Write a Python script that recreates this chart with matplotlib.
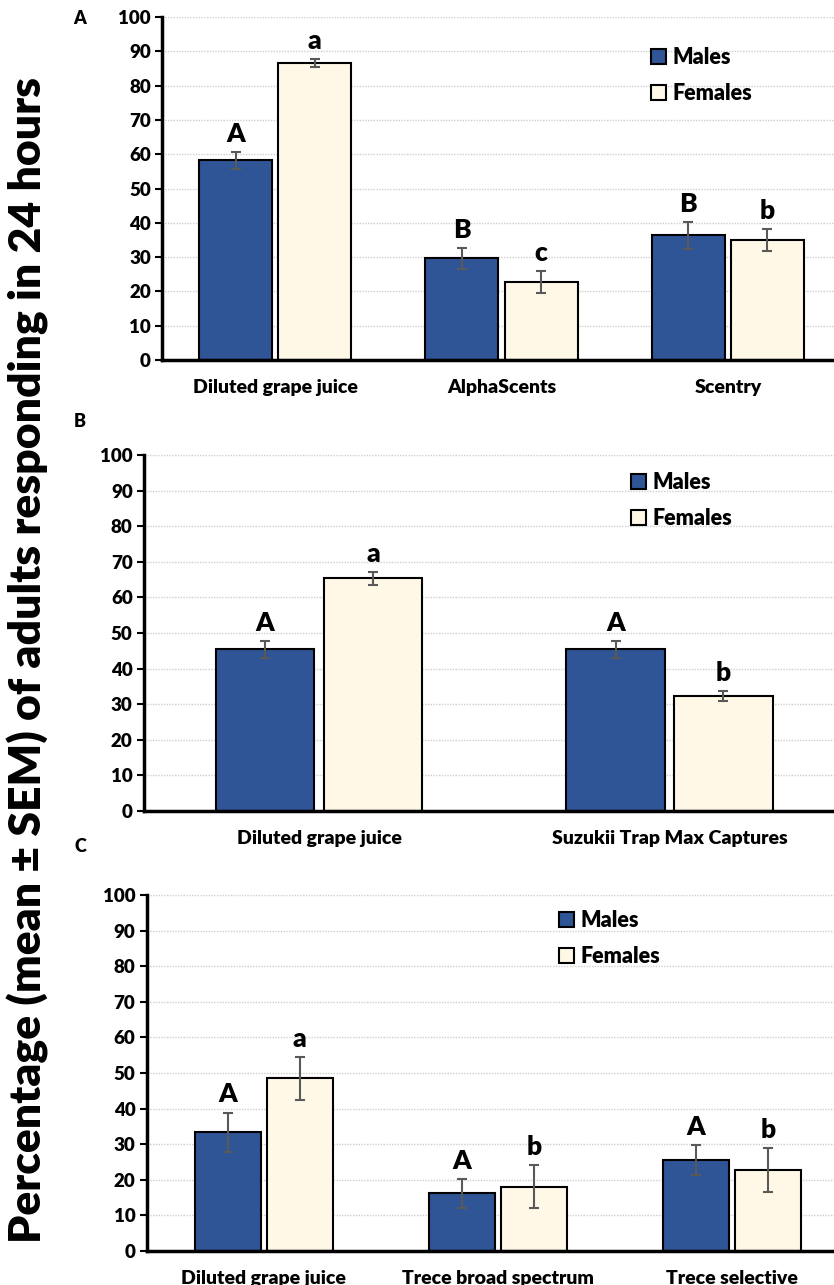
import matplotlib
matplotlib.use("Agg")
import matplotlib.pyplot as plt
from matplotlib.patches import Patch
import numpy as np

plt.rcParams['font.family'] = ['Lato', 'DejaVu Sans']
plt.rcParams['font.weight'] = 'bold'

# ---------------- data ----------------
cats_a = ["Diluted grape juice", "AlphaScents", "Scentry"]
males_a = [58.2, 29.6, 36.3]
males_a_sem = [2.5, 3.0, 3.9]
females_a = [86.5, 22.8, 35.0]
females_a_sem = [1.2, 3.2, 3.3]
letters_m_a = ["A", "B", "B"]
letters_f_a = ["a", "c", "b"]

cats_b = ["Diluted grape juice", "Suzukii Trap Max Captures"]
males_b = [45.4, 45.4]
males_b_sem = [2.3, 2.3]
females_b = [65.4, 32.3]
females_b_sem = [1.8, 1.5]
letters_m_b = ["A", "A"]
letters_f_b = ["a", "b"]

cats_c = ["Diluted grape juice", "Trece broad spectrum", "Trece selective"]
males_c = [33.3, 16.2, 25.6]
males_c_sem = [5.6, 4.0, 4.2]
females_c = [48.5, 18.1, 22.8]
females_c_sem = [6.0, 6.0, 6.2]
letters_m_c = ["A", "A", "A"]
letters_f_c = ["a", "b", "b"]

yticks = list(range(0, 101, 10))
panel_labels = ["A", "B", "C"]
series_names = ["Males", "Females"]

MALE = "#2F5597"
FEMALE = "#FFF8E7"
ERR = "#595959"

W, H = 834, 1285
fig = plt.figure(figsize=(W / 100, H / 100), dpi=100)


def px_axes(left, right, top, bottom):
    return fig.add_axes([left / W, 1 - bottom / H, (right - left) / W, (bottom - top) / H])


def draw_panel(ax, cats, m, msem, f, fsem, lm, lf, width, offset, legend_xy):
    x = np.arange(len(cats))
    ax.set_axisbelow(True)
    ax.yaxis.grid(True, color="#cfcfcf", linestyle=(0, (1, 1)), linewidth=1.0)
    ax.bar(x - offset, m, width, color=MALE, edgecolor="black", linewidth=1.5, zorder=2)
    ax.bar(x + offset, f, width, color=FEMALE, edgecolor="black", linewidth=1.5, zorder=2)
    ax.errorbar(x - offset, m, yerr=msem, fmt="none", ecolor=ERR, elinewidth=1.5,
                capsize=3.5, capthick=1.5, zorder=3)
    ax.errorbar(x + offset, f, yerr=fsem, fmt="none", ecolor=ERR, elinewidth=1.5,
                capsize=3.5, capthick=1.5, zorder=3)
    for xi, v, s, t in zip(x - offset, m, msem, lm):
        ax.annotate(t, (xi, v + s), xytext=(0, 13), textcoords="offset points",
                    ha="center", va="center", fontsize=19, fontweight="heavy")
    for xi, v, s, t in zip(x + offset, f, fsem, lf):
        ax.annotate(t, (xi, v + s), xytext=(0, 13), textcoords="offset points",
                    ha="center", va="center", fontsize=19, fontweight="heavy")
    ax.set_xlim(-0.5, len(cats) - 0.5)
    ax.set_ylim(0, 100)
    ax.set_yticks(yticks)
    ax.set_xticks(x)
    ax.set_xticklabels(cats, fontsize=14, fontweight="heavy")
    ax.tick_params(axis="x", length=0, pad=14)
    ax.tick_params(axis="y", length=5, width=1.5, labelsize=13.5, pad=3)
    for lab in ax.get_yticklabels():
        lab.set_fontweight("heavy")
    for sp in ["top", "right"]:
        ax.spines[sp].set_visible(False)
    ax.spines["left"].set_linewidth(2.5)
    ax.spines["bottom"].set_linewidth(2.5)
    handles = [Patch(facecolor=MALE, edgecolor="black", linewidth=1.5),
               Patch(facecolor=FEMALE, edgecolor="black", linewidth=1.5)]
    ax.legend(handles, series_names, loc="upper left", bbox_to_anchor=legend_xy,
              frameon=False, prop={"size": 15.5, "weight": "heavy"},
              handlelength=0.7, handleheight=0.7, handletextpad=0.3,
              labelspacing=0.7, borderpad=0, borderaxespad=0)


axA = px_axes(162, 841, 17, 360)
draw_panel(axA, cats_a, males_a, males_a_sem, females_a, females_a_sem,
           letters_m_a, letters_f_a, 0.323, 0.175, (0.72, 0.912))

axB = px_axes(143.75, 844.75, 455, 811)
draw_panel(axB, cats_b, males_b, males_b_sem, females_b, females_b_sem,
           letters_m_b, letters_f_b, 0.28, 0.154, (0.695, 0.952))

axC = px_axes(146.5, 849, 895, 1251)
draw_panel(axC, cats_c, males_c, males_c_sem, females_c, females_c_sem,
           letters_m_c, letters_f_c, 0.282, 0.154, (0.587, 0.957))

for lab, ypx in zip(panel_labels, [18, 422, 847]):
    fig.text(80 / W, 1 - ypx / H, lab, ha="center", va="center", fontsize=13, fontweight="heavy")

fig.text(28 / W, 1 - 660 / H, "Percentage (mean ± SEM) of adults responding in 24 hours",
         rotation=90, ha="center", va="center", fontsize=32, fontweight="heavy")

fig.savefig("out.png", dpi=100)
